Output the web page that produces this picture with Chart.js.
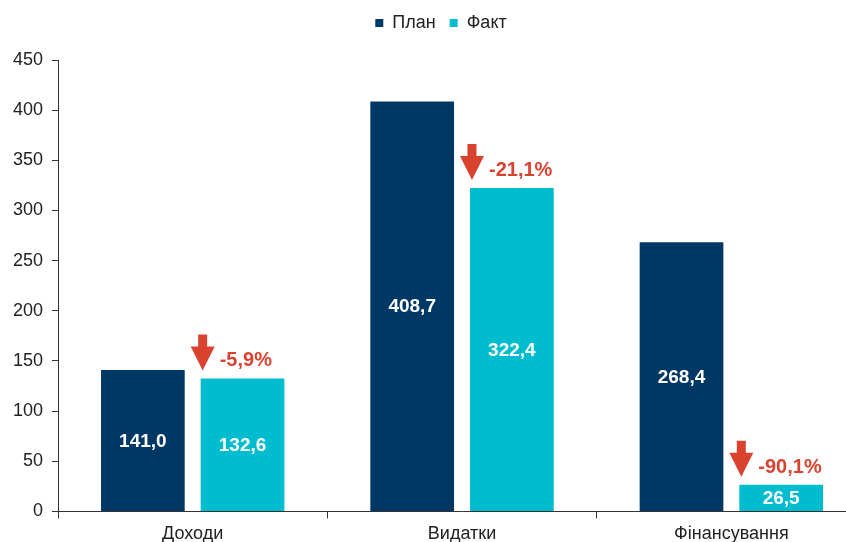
<!DOCTYPE html>
<html>
<head>
<meta charset="utf-8">
<script src="https://cdn.jsdelivr.net/npm/chart.js@4.4.1/dist/chart.umd.min.js"></script>
<style>
  html, body { margin: 0; padding: 0; background: #fff; overflow: hidden; }
  #wrap { position: absolute; left: 0; top: 0; width: 870px; height: 552px; }
</style>
</head>
<body>
<div id="wrap"><canvas id="chart"></canvas></div>
<script>
//---data---
const categories = ['Доходи', 'Видатки', 'Фінансування'];
const planValues = [141.0, 408.7, 268.4];
const factValues = [132.6, 322.4, 26.5];
const changePct = [-5.9, -21.1, -90.1];
const yTicks = [0, 50, 100, 150, 200, 250, 300, 350, 400, 450];

const NAVY = '#003865';
const CYAN = '#00bccf';
const RED = '#da4230';
const FONT = "'Liberation Sans', Arial, sans-serif";

function fmt(v) {
  return v.toFixed(1).replace('.', ',');
}

//---extra room under the legend, and nudge it a bit right---
const legendGap = {
  id: 'legendGap',
  beforeInit(chart) {
    const origFit = chart.legend.fit;
    chart.legend.fit = function fit() {
      origFit.bind(chart.legend)();
      this.height += 18;
    };
  },
  afterLayout(chart) {
    chart.legend.left += 6;
    chart.legend.right += 6;
  }
};

//---values inside bars + red arrows over Факт---
const labelsPlugin = {
  id: 'barLabels',
  afterDatasetsDraw(chart) {
    const ctx = chart.ctx;
    ctx.save();
    ctx.font = 'bold 19px ' + FONT;
    ctx.fillStyle = '#fff';
    ctx.textAlign = 'center';
    ctx.textBaseline = 'middle';
    chart.data.datasets.forEach((ds, di) => {
      chart.getDatasetMeta(di).data.forEach((bar, i) => {
        ctx.fillText(fmt(ds.data[i]), bar.x, (bar.y + bar.base) / 2 + 1);
      });
    });

    // arrows + percentage
    const factMeta = chart.getDatasetMeta(1);
    factMeta.data.forEach((bar, i) => {
      const left = bar.x - bar.width / 2;
      const top = bar.y;
      const ax = left + 2;
      const tip = top - 8;
      ctx.fillStyle = RED;
      ctx.beginPath();
      ctx.moveTo(ax - 4.5, tip - 36);
      ctx.lineTo(ax + 4.5, tip - 36);
      ctx.lineTo(ax + 4.5, tip - 24);
      ctx.lineTo(ax + 12, tip - 24);
      ctx.lineTo(ax, tip);
      ctx.lineTo(ax - 12, tip - 24);
      ctx.lineTo(ax - 4.5, tip - 24);
      ctx.closePath();
      ctx.fill();

      ctx.font = 'bold 20px ' + FONT;
      ctx.textAlign = 'left';
      ctx.textBaseline = 'alphabetic';
      ctx.fillText(fmt(changePct[i]) + '%', left + 19, top - 12);
    });
    ctx.restore();
  }
};

document.addEventListener('DOMContentLoaded', () => {
  Chart.defaults.font.family = FONT;
  Chart.defaults.color = '#222';

  new Chart(document.getElementById('chart'), {
    type: 'bar',
    data: {
      labels: categories,
      datasets: [
        { label: 'План', data: planValues, backgroundColor: NAVY, categoryPercentage: 0.74, barPercentage: 0.84 },
        { label: 'Факт', data: factValues, backgroundColor: CYAN, categoryPercentage: 0.74, barPercentage: 0.84 }
      ]
    },
    options: {
      responsive: true,
      maintainAspectRatio: false,
      animation: false,
      layout: { padding: { left: 4, right: 4, top: 0, bottom: 2 } },
      plugins: {
        legend: {
          position: 'top',
          labels: {
            boxWidth: 8,
            boxHeight: 8,
            padding: 14,
            color: '#222',
            font: { size: 18 }
          }
        },
        tooltip: { enabled: false }
      },
      scales: {
        x: {
          grid: {
            offset: true,
            drawOnChartArea: false,
            drawTicks: true,
            tickLength: 7,
            color: '#333'
          },
          border: { display: true, color: '#333', width: 1 },
          ticks: { font: { size: 18 }, color: '#222', padding: 5 }
        },
        y: {
          min: 0,
          max: 450,
          afterBuildTicks(axis) {
            axis.ticks = yTicks.map(v => ({ value: v }));
          },
          grid: {
            drawOnChartArea: false,
            drawTicks: true,
            tickLength: 6,
            color: '#333'
          },
          border: { display: true, color: '#333', width: 1 },
          ticks: { font: { size: 18 }, color: '#222', padding: 9 }
        }
      }
    },
    plugins: [legendGap, labelsPlugin]
  });
});
</script>
</body>
</html>
